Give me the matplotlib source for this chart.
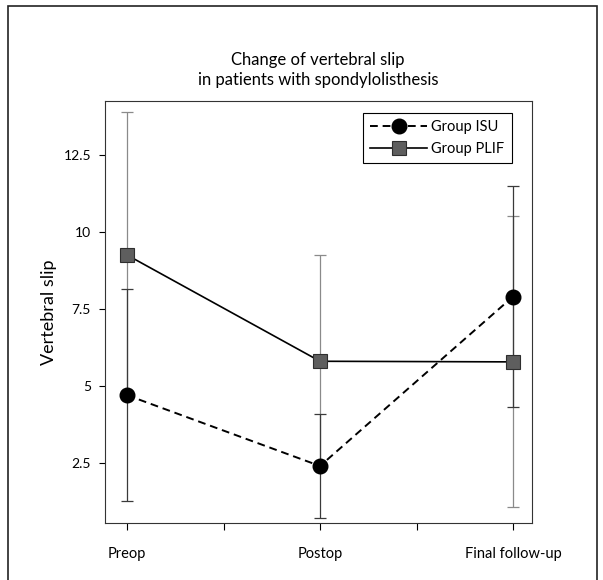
import numpy as np
import matplotlib
matplotlib.use('Agg')
import matplotlib.pyplot as plt
from matplotlib.patches import Rectangle

plt.rcParams['font.family'] = ['Lato', 'DejaVu Sans']

stages = ['Preop', 'Postop', 'Final follow-up']
isu_mean = [4.7, 2.4, 7.9]
isu_sd = [3.45, 1.7, 3.6]
plif_mean = [9.25, 5.8, 5.78]
plif_sd = [4.65, 3.45, 4.72]
yticks = [2.5, 5, 7.5, 10, 12.5]
ytick_labels = ['2.5', '5', '7.5', '10', '12.5']

x = np.arange(len(stages))

fig = plt.figure(figsize=(6.03, 5.80), dpi=100)
ax = fig.add_axes([0.1741, 0.0983, 0.7081, 0.7276])

# error bars first so the markers sit on top
ax.errorbar(x, plif_mean, yerr=plif_sd, fmt='none', ecolor='#8a8a8a',
            elinewidth=0.9, capsize=4.5, capthick=0.9, zorder=1)
ax.errorbar(x, isu_mean, yerr=isu_sd, fmt='none', ecolor='#3a3a3a',
            elinewidth=0.9, capsize=4.5, capthick=0.9, zorder=1)

ax.plot(x, isu_mean, linestyle=(0, (4, 2.5)), color='black', lw=1.4,
        marker='o', markersize=10.5, markerfacecolor='black',
        markeredgecolor='black', label='Group ISU', zorder=3)
ax.plot(x, plif_mean, linestyle='-', color='black', lw=1.2,
        marker='s', markersize=10, markerfacecolor='#5e5e5e',
        markeredgecolor='#2e2e2e', markeredgewidth=0.8,
        label='Group PLIF', zorder=3)

ax.set_xlim(-0.114, 2.098)
ax.set_ylim(0.55, 14.25)
ax.set_xticks(x)
ax.set_xticklabels(stages, fontsize=10.5)
ax.set_xticks([0.5, 1.5], minor=True)
ax.set_yticks(yticks)
ax.set_yticklabels(ytick_labels, fontsize=10)
ax.tick_params(axis='x', which='both', direction='out', length=5, width=0.8, pad=12)
ax.tick_params(axis='y', direction='out', length=4, width=0.8, pad=6)
for s in ax.spines.values():
    s.set_linewidth(0.8)
    s.set_color('#333333')

ax.set_ylabel('Vertebral slip', fontsize=13, labelpad=5)

leg = ax.legend(loc='upper right', bbox_to_anchor=(0.953, 0.972), fontsize=10.5,
                handlelength=3.9, fancybox=False, framealpha=1,
                edgecolor='black', borderpad=0.5, labelspacing=0.55,
                handletextpad=0.3, borderaxespad=0)
leg.get_frame().set_linewidth(0.8)

fig.text(0.527, 1 - 70 / 580, 'Change of vertebral slip\nin patients with spondylolisthesis',
         ha='center', va='center', fontsize=12, linespacing=1.25)

# outer frame around the figure
fig.patches.append(Rectangle((8 / 603, -0.05), 589 / 603, 1.05 - 6 / 580,
                             transform=fig.transFigure, fill=False,
                             edgecolor='#222222', lw=1.2, clip_on=False))

fig.savefig('out.png', dpi=100)
